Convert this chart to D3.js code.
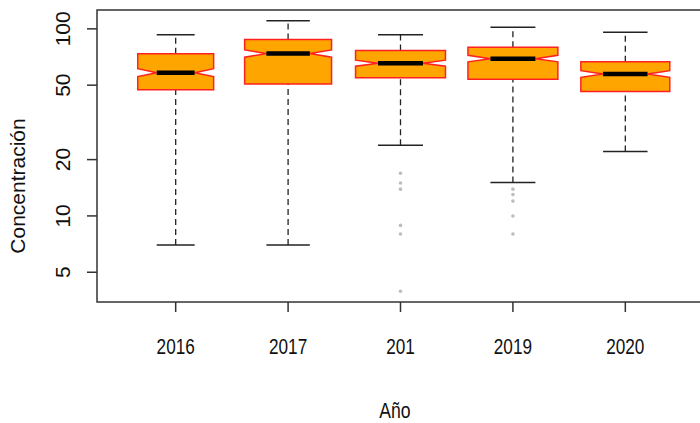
<!DOCTYPE html>
<html>
<head>
<meta charset="utf-8">
<script src="https://cdn.jsdelivr.net/npm/d3@7"></script>
<style>
  html, body { margin: 0; padding: 0; background: #ffffff; }
  svg { display: block; }
  text { font-family: "Liberation Sans", Arial, Helvetica, sans-serif; fill: #111; }
</style>
</head>
<body>
<svg id="chart" width="700" height="423"></svg>
<script>
// ---- data ----
const years       = ["2016", "2017", "2018", "2019", "2020"];
const tickLabels  = ["2016", "2017", "201", "2019", "2020"];
const whiskerLow  = [7.0, 7.0, 23.9, 15.1, 22.1];
const q1          = [47.3, 50.8, 54.8, 53.8, 46.2];
const median      = [58.3, 73.8, 65.5, 69.3, 57.4];
const q3          = [73.5, 87.7, 76.5, 79.8, 66.8];
const whiskerHigh = [92.9, 110.4, 92.9, 102.1, 96.0];
const notchLow    = [55.6, 70.5, 63.1, 66.6, 55.1];
const notchHigh   = [61.3, 77.2, 68.0, 72.2, 59.8];
const sampleSize  = [260, 341, 365, 365, 357];   // estimated (varwidth boxes)
const outliers    = [[], [], [16.9, 15.0, 13.9, 8.9, 8.0, 3.96], [13.9, 13.0, 12.0, 10.0, 8.0], []];
const yTicks      = [5, 10, 20, 50, 100];
const yTitle = "Concentración";
const xTitle = "Año";

// ---- layout ----
const svg = d3.select("#chart");
const plot = { left: 97, top: 10, right: 704, bottom: 302 };

// x: R style, categories at 1..n, limits 0.5..n+0.5 extended by 4%
const n = years.length;
const xSpan = n;
const x = d3.scaleLinear()
  .domain([0.5 - 0.04 * xSpan, n + 0.5 + 0.04 * xSpan])
  .range([plot.left, plot.right]);

// y: log scale, data range extended by 4% in log space
const allVals = [].concat(whiskerLow, whiskerHigh, ...outliers);
const lmin = Math.log10(d3.min(allVals)), lmax = Math.log10(d3.max(allVals));
const ext = 0.04 * (lmax - lmin);
const y = d3.scaleLog()
  .domain([Math.pow(10, lmin - ext), Math.pow(10, lmax + ext)])
  .range([plot.bottom, plot.top]);

const nMax = d3.max(sampleSize);
const halfW = sampleSize.map(s => 0.4 * Math.sqrt(s / nMax)); // in x units

// ---- boxes ----
const g = svg.append("g");
years.forEach((yr, i) => {
  const cx = i + 1;
  const w = halfW[i];
  const px = v => x(cx + v);
  const line = d3.line();

  // whiskers (dashed)
  g.append("line")
    .attr("x1", x(cx)).attr("x2", x(cx))
    .attr("y1", y(whiskerLow[i])).attr("y2", y(q1[i]))
    .attr("stroke", "#222").attr("stroke-width", 1.3).attr("stroke-dasharray", "6,4");
  g.append("line")
    .attr("x1", x(cx)).attr("x2", x(cx))
    .attr("y1", y(q3[i])).attr("y2", y(whiskerHigh[i]))
    .attr("stroke", "#222").attr("stroke-width", 1.3).attr("stroke-dasharray", "6,4");
  // staples
  [whiskerLow[i], whiskerHigh[i]].forEach(v => {
    g.append("line")
      .attr("x1", px(-0.5 * w)).attr("x2", px(0.5 * w))
      .attr("y1", y(v)).attr("y2", y(v))
      .attr("stroke", "#222").attr("stroke-width", 1.5);
  });

  // notched box polygon (R bxp style)
  const pts = [
    [px(-w), y(q1[i])], [px(w), y(q1[i])], [px(w), y(notchLow[i])],
    [px(0.5 * w), y(median[i])], [px(w), y(notchHigh[i])], [px(w), y(q3[i])],
    [px(-w), y(q3[i])], [px(-w), y(notchHigh[i])], [px(-0.5 * w), y(median[i])],
    [px(-w), y(notchLow[i])]
  ];
  g.append("path")
    .attr("d", line(pts) + "Z")
    .attr("fill", "#FFA500").attr("stroke", "#FF2020").attr("stroke-width", 1.5)
    .attr("stroke-linejoin", "miter");

  // median
  g.append("line")
    .attr("x1", px(-0.5 * w)).attr("x2", px(0.5 * w))
    .attr("y1", y(median[i])).attr("y2", y(median[i]))
    .attr("stroke", "#000").attr("stroke-width", 4.5);

  // outliers
  g.selectAll(null).data(outliers[i]).enter().append("circle")
    .attr("cx", x(cx)).attr("cy", d => y(d)).attr("r", 1.8)
    .attr("fill", "#bdbdbd");
});

// ---- frame ----
svg.append("rect")
  .attr("x", plot.left).attr("y", plot.top)
  .attr("width", plot.right - plot.left).attr("height", plot.bottom - plot.top)
  .attr("fill", "none").attr("stroke", "#333").attr("stroke-width", 1.5);

// ---- y axis ----
const yAxis = svg.append("g");
yTicks.forEach(t => {
  yAxis.append("line")
    .attr("x1", plot.left - 10).attr("x2", plot.left)
    .attr("y1", y(t)).attr("y2", y(t))
    .attr("stroke", "#333").attr("stroke-width", 1.5);
  yAxis.append("text")
    .attr("transform", `translate(70,${y(t)}) rotate(-90)`)
    .attr("text-anchor", "middle")
    .attr("font-size", 21)
    .text(t);
});

// ---- x axis ----
const xAxis = svg.append("g");
tickLabels.forEach((lab, i) => {
  xAxis.append("line")
    .attr("x1", x(i + 1)).attr("x2", x(i + 1))
    .attr("y1", plot.bottom).attr("y2", plot.bottom + 10)
    .attr("stroke", "#333").attr("stroke-width", 1.5);
  xAxis.append("text")
    .attr("transform", `translate(${x(i + 1)},354) scale(0.78,1)`)
    .attr("text-anchor", "middle")
    .attr("font-size", 22)
    .text(lab);
});

// ---- titles ----
svg.append("text")
  .attr("transform", "translate(395,418) scale(0.8,1)")
  .attr("text-anchor", "middle")
  .attr("font-size", 22)
  .text(xTitle);

svg.append("text")
  .attr("transform", "translate(25,186) rotate(-90)")
  .attr("text-anchor", "middle")
  .attr("font-size", 21)
  .text(yTitle);
</script>
</body>
</html>
